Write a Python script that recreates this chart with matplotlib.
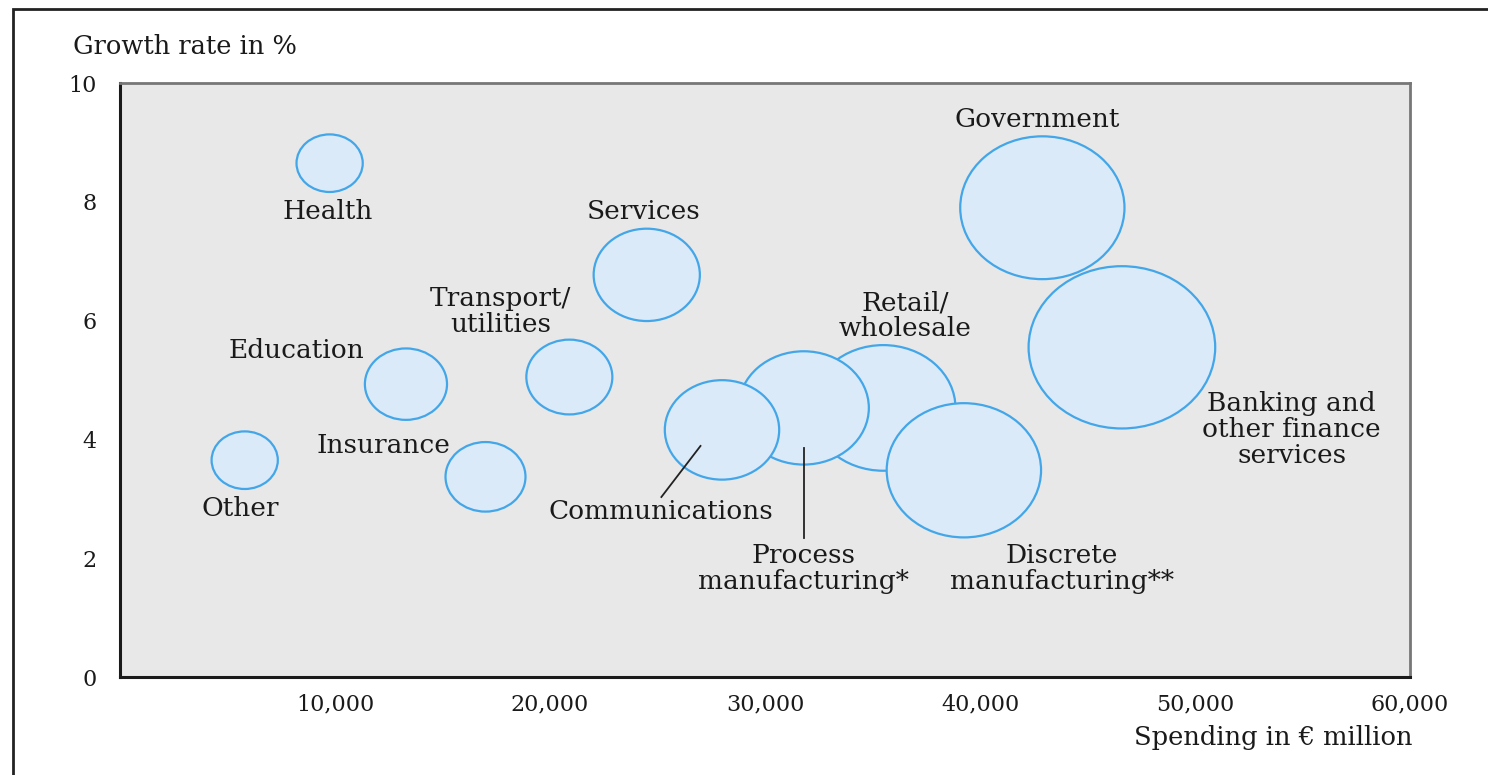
import matplotlib.pyplot as plt
from matplotlib.patches import Ellipse, Rectangle

# sectors, drawn back to front
sectors = ['Banking', 'Government', 'Retail', 'Discrete', 'Process',
           'Communications', 'Services', 'Transport', 'Insurance',
           'Education', 'Health', 'Other']
spending = [46600, 42900, 35500, 39250, 31800, 28000, 24500, 20900,
            17000, 13300, 9750, 5800]
growth = [5.55, 7.9, 4.53, 3.48, 4.53, 4.16, 6.77, 5.05, 3.37, 4.93, 8.65, 3.65]
bubble_size = [4340, 3820, 3360, 3590, 3030, 2660, 2470, 2000, 1860, 1910, 1540, 1540]

# label text and where it sits (x, y in data units)
labels = {
    'Banking': ('Banking and\nother finance\nservices', 54500, 4.16),
    'Government': ('Government', 42650, 9.39),
    'Retail': ('Retail/\nwholesale', 36500, 6.08),
    'Discrete': ('Discrete\nmanufacturing**', 43800, 1.82),
    'Process': ('Process\nmanufacturing*', 31800, 1.82),
    'Communications': ('Communications', 25150, 2.79),
    'Services': ('Services', 24350, 7.83),
    'Transport': ('Transport/\nutilities', 17700, 6.16),
    'Insurance': ('Insurance', 12250, 3.89),
    'Education': ('Education', 8200, 5.49),
    'Health': ('Health', 9650, 7.83),
    'Other': ('Other', 5600, 2.83),
}

xticks = [10000, 20000, 30000, 40000, 50000, 60000]
xticklabels = ['10,000', '20,000', '30,000', '40,000', '50,000', '60,000']
yticks = [0, 2, 4, 6, 8, 10]

serif = 'DejaVu Serif'

fig = plt.figure(figsize=(14.88, 7.75), dpi=100)
ax = fig.add_axes([120 / 1488, 98 / 775, 1290 / 1488, 594 / 775])
ax.set_xlim(0, 60000)
ax.set_ylim(0, 10)
ax.set_facecolor('#e8e8e8')

# outer frame of the figure, open on the right and bottom
fig.patches.append(Rectangle((13 / 1488, -0.1), 1.2, 1.1 - 9 / 775,
                             transform=fig.transFigure, fill=False,
                             edgecolor='#222222', linewidth=2))

for side in ['left', 'bottom']:
    ax.spines[side].set_color('#1a1a1a')
    ax.spines[side].set_linewidth(2.2)
for side in ['top', 'right']:
    ax.spines[side].set_color('#777777')
    ax.spines[side].set_linewidth(2)

fig.canvas.draw()
# pixels per data unit, used to keep the bubbles slightly wider than tall
px = ax.transData.transform([(0, 0), (1, 1)])
sx = px[1][0] - px[0][0]
sy = px[1][1] - px[0][1]
stretch = 1.15

for i, name in enumerate(sectors):
    w = 2 * bubble_size[i]
    h = w * sx / sy / stretch
    ax.add_patch(Ellipse((spending[i], growth[i]), w, h,
                         facecolor='#dbeaf8', edgecolor='#42a6e8',
                         linewidth=1.6, zorder=2 + i))
    text, lx, ly = labels[name]
    ax.text(lx, ly, text, ha='center', va='center', family=serif,
            fontsize=19, color='#1a1a1a', linespacing=1.05, zorder=20)

# leader lines
ax.plot([25180, 27000], [3.03, 3.89], color='#222222', lw=1.3, zorder=20)
ax.plot([31830, 31830], [3.86, 2.34], color='#222222', lw=1.3, zorder=20)

ax.set_xticks(xticks)
ax.set_xticklabels(xticklabels)
ax.set_yticks(yticks)
ax.tick_params(length=0, labelsize=16, colors='#1a1a1a')
ax.tick_params(axis='x', pad=12)
ax.tick_params(axis='y', pad=17)
for t in ax.get_xticklabels() + ax.get_yticklabels():
    t.set_family(serif)

fig.text(73 / 1488, 1 - 47 / 775, 'Growth rate in %', ha='left', va='center',
         family=serif, fontsize=18.5, color='#1a1a1a')
fig.text(1412 / 1488, 1 - 738 / 775, 'Spending in € million', ha='right',
         va='center', family=serif, fontsize=18.5, color='#1a1a1a')

fig.savefig('out.png', dpi=100, facecolor='white')
